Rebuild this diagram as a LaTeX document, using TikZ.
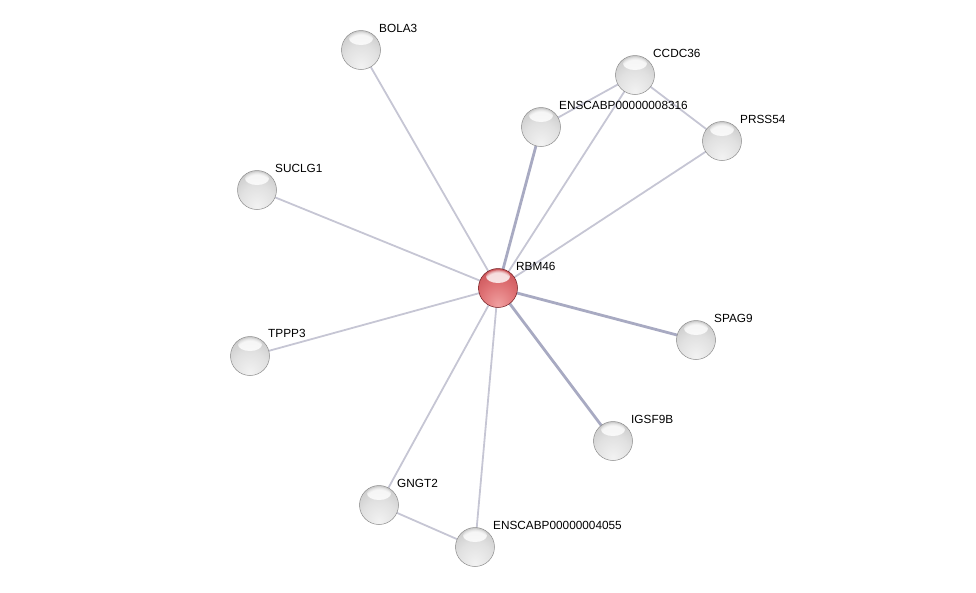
\documentclass[tikz,border=0pt]{standalone}
\usepackage{fontspec}
\setmainfont{Liberation Sans}
\usetikzlibrary{calc,fadings}
\pgfdeclareradialshading{graysphere}{\pgfpoint{0bp}{-22bp}}{color(0bp)=(white!95!black); color(22bp)=(white!88!black); color(42bp)=(white!76!black); color(62bp)=(white!62!black); color(72bp)=(white!50!black)}
\definecolor{rA}{RGB}{240,160,160}
\definecolor{rB}{RGB}{222,112,115}
\definecolor{rC}{RGB}{196,75,80}
\definecolor{rD}{RGB}{140,35,40}
\pgfdeclareradialshading{redsphere}{\pgfpoint{0bp}{-22bp}}{color(0bp)=(rA); color(22bp)=(rB); color(42bp)=(rC); color(62bp)=(rD); color(72bp)=(rD)}
\begin{document}
\begin{tikzpicture}[x=1pt,y=-1pt,
  hl/.style={path picture={\fill[white,opacity=0.8,path fading={circle with fuzzy edge 20 percent}] ([yshift=-8pt]path picture bounding box.north) ellipse [x radius=12pt,y radius=6.5pt];}},
  prot/.style={circle,minimum size=39pt,inner sep=0pt,shading=graysphere,draw=black!45,line width=0.5pt,hl},
  query/.style={circle,minimum size=39pt,inner sep=0pt,shading=redsphere,draw=rD!80!black,line width=0.5pt,hl},
  lbl/.style={anchor=west,font=\fontsize{11.8}{14}\selectfont,inner sep=0pt},
  edge/.style={draw={rgb,255:red,198;green,198;blue,212},line width=1.8pt},
  edgeb/.style={draw={rgb,255:red,168;green,170;blue,194},line width=2.8pt}]
\useasboundingbox (0,0) rectangle (976,592);
\coordinate (cBOLA3) at (361,50);
\coordinate (cCCDC36) at (635,75);
\coordinate (cE8316) at (541,127);
\coordinate (cPRSS54) at (722,141);
\coordinate (cSUCLG1) at (257,190);
\coordinate (cRBM46) at (498,288);
\coordinate (cSPAG9) at (696,340);
\coordinate (cTPPP3) at (250,356);
\coordinate (cIGSF9B) at (613,441);
\coordinate (cGNGT2) at (379,505);
\coordinate (cE4055) at (475,547);
% edges
\draw[edge] (cRBM46) -- (cBOLA3);
\draw[edge] (cRBM46) -- (cCCDC36);
\draw[edgeb] (cRBM46) -- (cE8316);
\draw[edge] (cRBM46) -- (cPRSS54);
\draw[edge] (cRBM46) -- (cSUCLG1);
\draw[edgeb] (cRBM46) -- (cSPAG9);
\draw[edge] (cRBM46) -- (cTPPP3);
\draw[edgeb] (cRBM46) -- (cIGSF9B);
\draw[edge] (cRBM46) -- (cGNGT2);
\draw[edge] (cRBM46) -- (cE4055);
\draw[edge] (cCCDC36) -- (cE8316);
\draw[edge] (cCCDC36) -- (cPRSS54);
\draw[edge] (cGNGT2) -- (cE4055);
% nodes
\node[prot] (BOLA3) at (cBOLA3) {};
\node[prot] (CCDC36) at (cCCDC36) {};
\node[prot] (E8316) at (cE8316) {};
\node[prot] (PRSS54) at (cPRSS54) {};
\node[prot] (SUCLG1) at (cSUCLG1) {};
\node[query] (RBM46) at (cRBM46) {};
\node[prot] (SPAG9) at (cSPAG9) {};
\node[prot] (TPPP3) at (cTPPP3) {};
\node[prot] (IGSF9B) at (cIGSF9B) {};
\node[prot] (GNGT2) at (cGNGT2) {};
\node[prot] (E4055) at (cE4055) {};
% labels
\node[lbl] (lBOLA3) at ($(cBOLA3)+(18,-22)$) {BOLA3};
\node[lbl] (lCCDC36) at ($(cCCDC36)+(18,-22)$) {CCDC36};
\node[lbl] (lE8316) at ($(cE8316)+(18,-22)$) {ENSCABP00000008316};
\node[lbl] (lPRSS54) at ($(cPRSS54)+(18,-22)$) {PRSS54};
\node[lbl] (lSUCLG1) at ($(cSUCLG1)+(18,-22)$) {SUCLG1};
\node[lbl] (lRBM46) at ($(cRBM46)+(18,-22)$) {RBM46};
\node[lbl] (lSPAG9) at ($(cSPAG9)+(18,-22)$) {SPAG9};
\node[lbl] (lTPPP3) at ($(cTPPP3)+(18,-23)$) {TPPP3};
\node[lbl] (lIGSF9B) at ($(cIGSF9B)+(18,-22)$) {IGSF9B};
\node[lbl] (lGNGT2) at ($(cGNGT2)+(18,-22)$) {GNGT2};
\node[lbl] (lE4055) at ($(cE4055)+(18,-22)$) {ENSCABP00000004055};
\end{tikzpicture}
\end{document}
